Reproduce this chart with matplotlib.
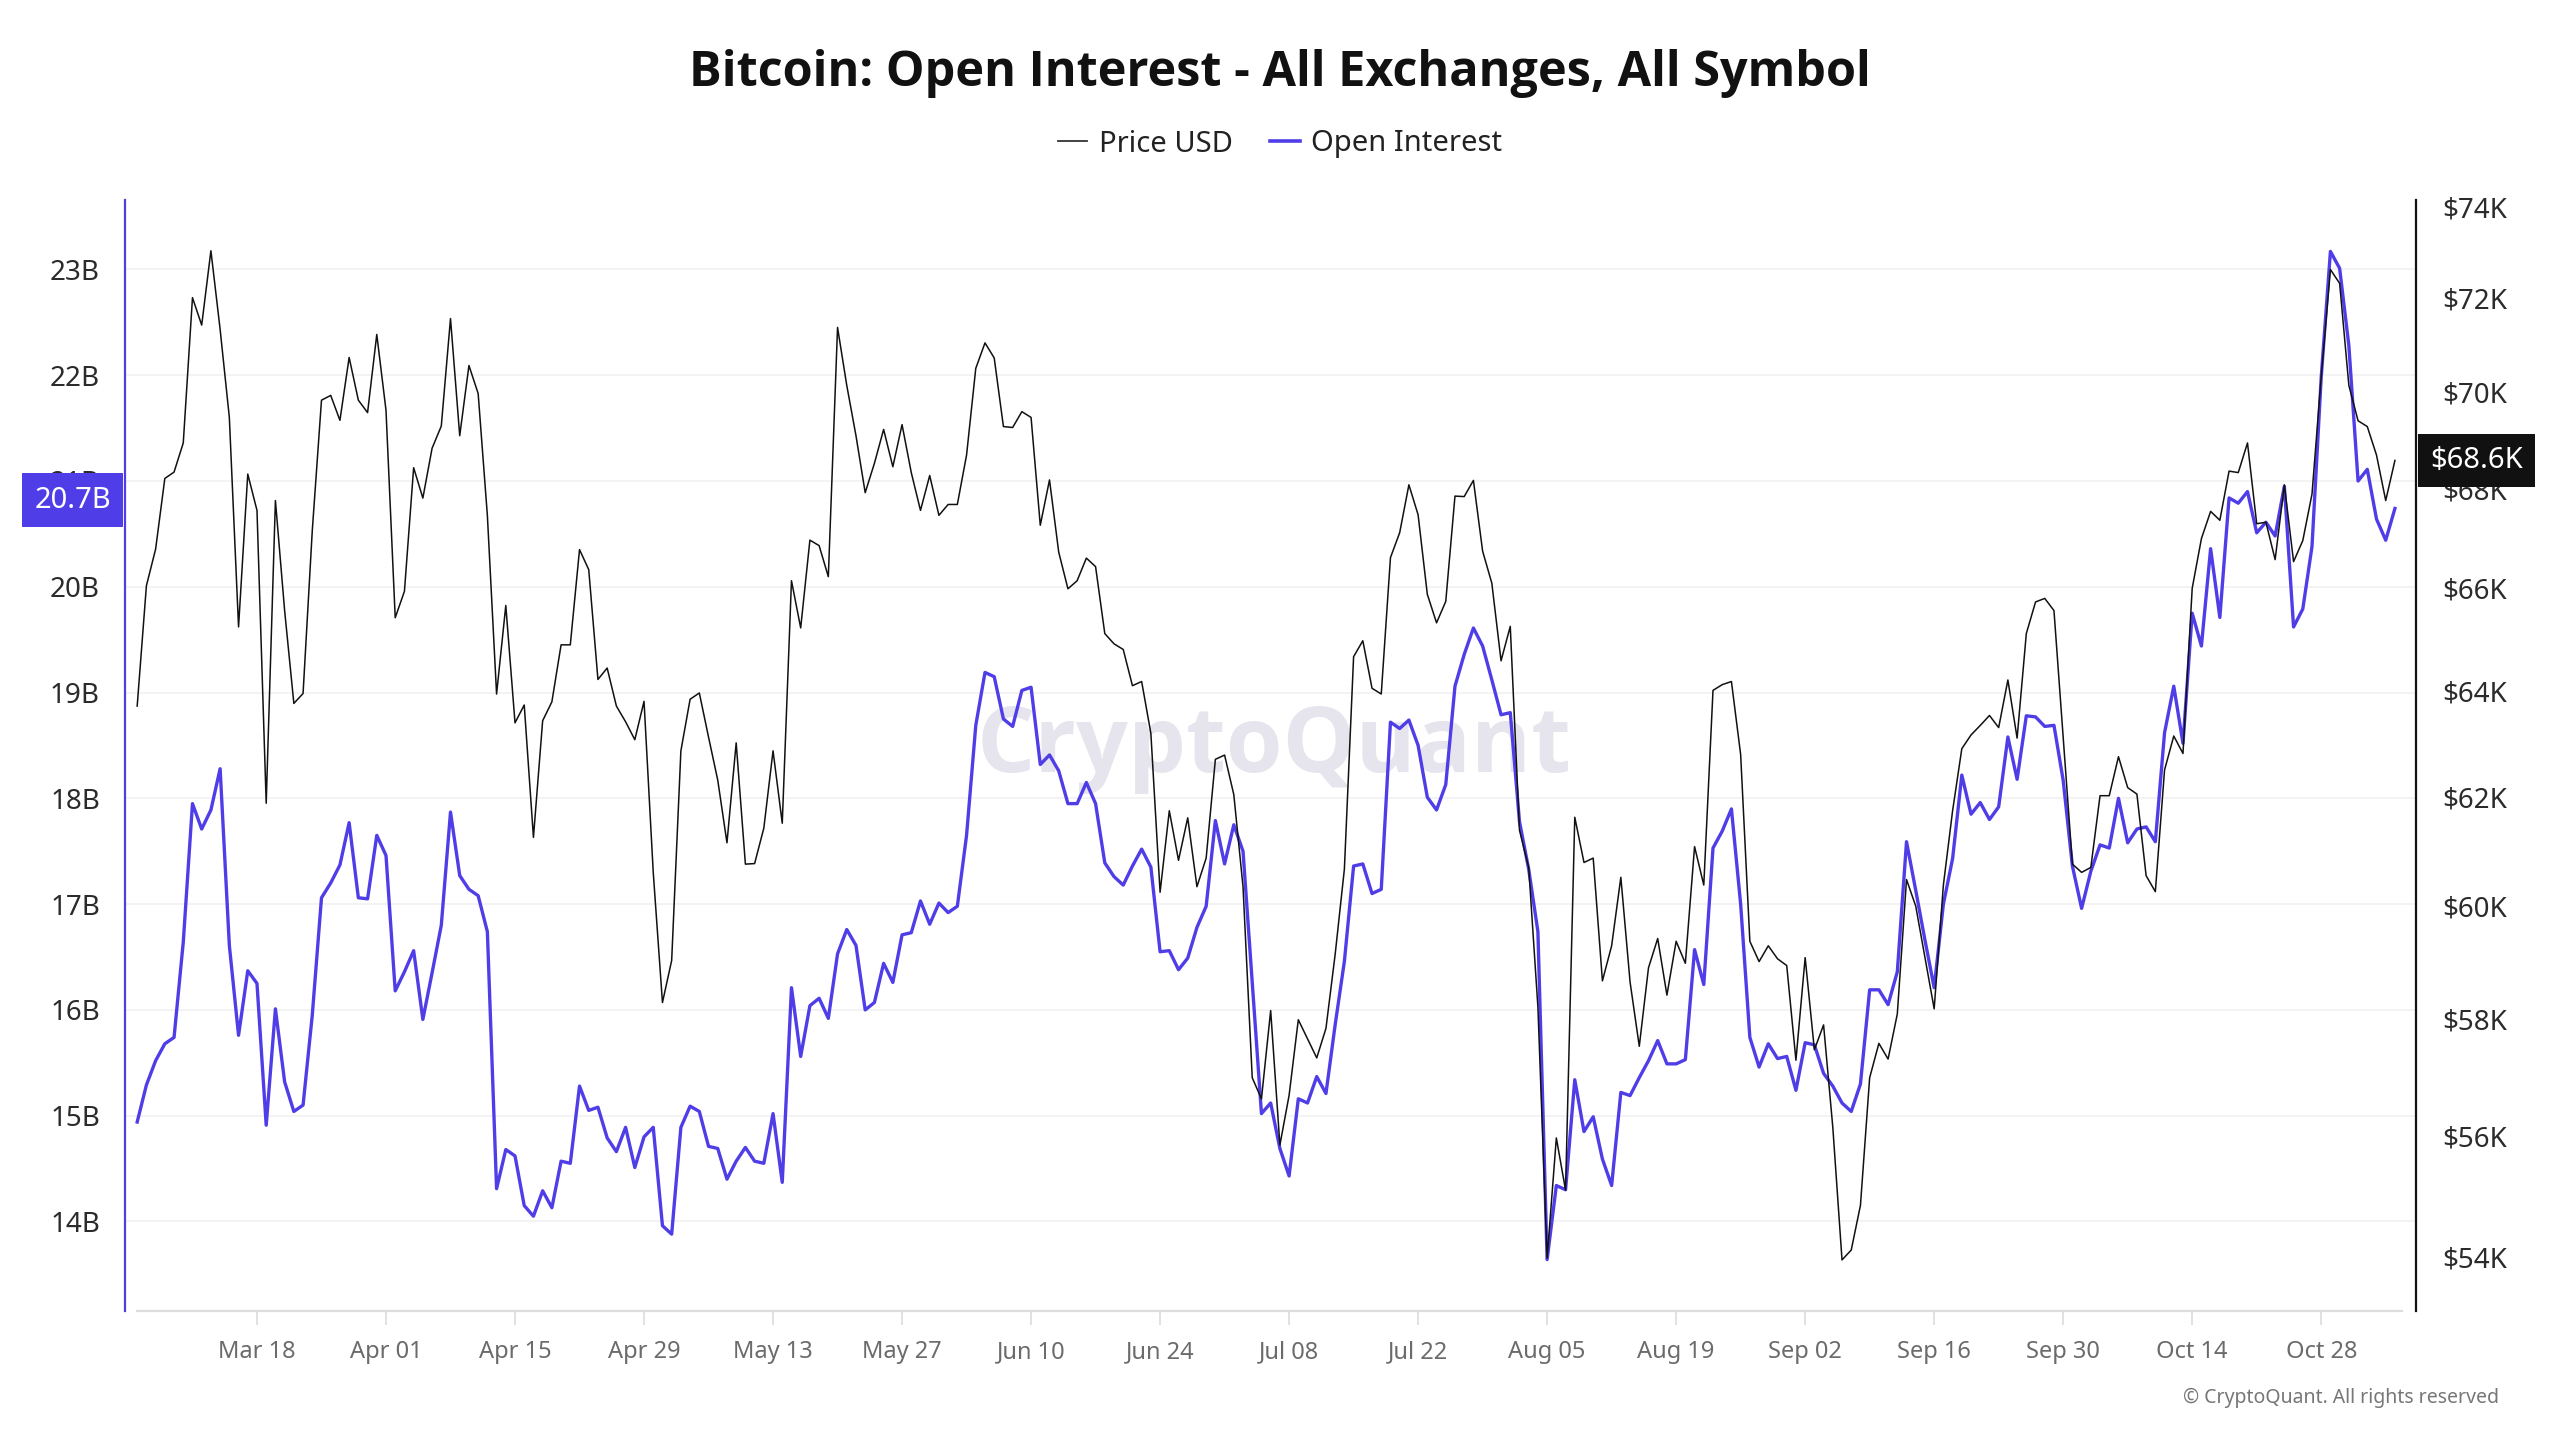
import matplotlib
matplotlib.use("Agg")
import matplotlib.pyplot as plt
import matplotlib.dates as mdates
from matplotlib.lines import Line2D
import pandas as pd

# daily series, one value per day starting at START_DATE
START_DATE = "2024-03-05"

PRICE_K = [
    63.71, 66.05, 66.78, 68.21, 68.34, 68.94, 72.01, 71.42, 73.03, 71.33,
    69.47, 65.24, 68.30, 67.56, 61.88, 67.76, 65.56, 63.76, 63.95, 67.15,
    69.83, 69.93, 69.41, 70.73, 69.83, 69.57, 71.22, 69.62, 65.42, 65.94,
    68.43, 67.81, 68.83, 69.29, 71.56, 69.09, 70.56, 69.97, 67.46, 63.94,
    65.66, 63.39, 63.73, 61.25, 63.43, 63.79, 64.89, 64.89, 66.77, 66.37,
    64.22, 64.44, 63.71, 63.41, 63.07, 63.80, 60.61, 58.29, 59.03, 62.86,
    63.84, 63.96, 63.12, 62.31, 61.15, 63.01, 60.76, 60.77, 61.42, 62.86,
    61.51, 66.15, 65.22, 66.96, 66.85, 66.23, 71.37, 70.14, 69.09, 67.92,
    68.52, 69.22, 68.45, 69.32, 68.33, 67.56, 68.27, 67.46, 67.68, 67.68,
    68.69, 70.50, 71.04, 70.72, 69.28, 69.26, 69.59, 69.47, 67.26, 68.18,
    66.72, 65.99, 66.15, 66.60, 66.43, 65.11, 64.91, 64.80, 64.10, 64.18,
    63.19, 60.25, 61.74, 60.83, 61.61, 60.35, 60.87, 62.70, 62.78, 62.04,
    60.35, 56.99, 56.63, 58.15, 55.85, 56.69, 57.99, 57.66, 57.33, 57.84,
    59.14, 60.67, 64.66, 64.97, 64.05, 63.94, 66.61, 67.11, 68.08, 67.47,
    65.88, 65.32, 65.74, 67.85, 67.84, 68.17, 66.74, 66.10, 64.58, 65.25,
    61.38, 60.70, 58.21, 53.99, 55.97, 55.10, 61.62, 60.79, 60.87, 58.67,
    59.29, 60.52, 58.65, 57.53, 58.90, 59.42, 58.42, 59.37, 58.98, 61.08,
    60.38, 64.01, 64.12, 64.18, 62.79, 59.37, 59.01, 59.29, 59.06, 58.94,
    57.29, 59.08, 57.47, 57.90, 56.15, 53.96, 54.12, 54.85, 56.99, 57.58,
    57.31, 58.09, 60.48, 60.00, 59.08, 58.18, 60.38, 61.74, 62.90, 63.16,
    63.34, 63.53, 63.30, 64.21, 63.10, 65.11, 65.73, 65.80, 65.56, 63.10,
    60.76, 60.61, 60.70, 62.02, 62.02, 62.75, 62.17, 62.05, 60.55, 60.26,
    62.50, 63.14, 62.81, 66.00, 66.99, 67.54, 67.36, 68.36, 68.33, 68.94,
    67.29, 67.32, 66.57, 68.08, 66.53, 66.95, 67.89, 70.32, 72.62, 72.32,
    70.14, 69.40, 69.28, 68.69, 67.76, 68.58,
]

OPEN_INTEREST_B = [
    14.94, 15.29, 15.52, 15.68, 15.74, 16.64, 17.95, 17.71, 17.89, 18.28,
    16.61, 15.76, 16.37, 16.25, 14.91, 16.01, 15.32, 15.04, 15.10, 15.95,
    17.06, 17.20, 17.37, 17.77, 17.06, 17.05, 17.65, 17.46, 16.18, 16.36,
    16.56, 15.91, 16.35, 16.80, 17.87, 17.27, 17.14, 17.08, 16.74, 14.31,
    14.68, 14.62, 14.15, 14.05, 14.29, 14.13, 14.57, 14.55, 15.28, 15.05,
    15.08, 14.79, 14.66, 14.89, 14.51, 14.80, 14.89, 13.96, 13.88, 14.89,
    15.09, 15.04, 14.71, 14.69, 14.40, 14.57, 14.70, 14.57, 14.55, 15.02,
    14.37, 16.21, 15.56, 16.04, 16.11, 15.92, 16.53, 16.76, 16.61, 16.00,
    16.07, 16.44, 16.26, 16.71, 16.73, 17.03, 16.81, 17.01, 16.92, 16.98,
    17.65, 18.69, 19.19, 19.15, 18.75, 18.68, 19.02, 19.05, 18.32, 18.41,
    18.26, 17.95, 17.95, 18.15, 17.95, 17.39, 17.26, 17.18, 17.36, 17.52,
    17.35, 16.55, 16.56, 16.38, 16.49, 16.78, 16.98, 17.79, 17.38, 17.75,
    17.50, 16.26, 15.02, 15.12, 14.69, 14.43, 15.16, 15.12, 15.37, 15.21,
    15.86, 16.46, 17.36, 17.38, 17.10, 17.14, 18.72, 18.66, 18.74, 18.50,
    18.01, 17.89, 18.13, 19.06, 19.36, 19.61, 19.44, 19.12, 18.79, 18.81,
    17.78, 17.33, 16.74, 13.64, 14.34, 14.30, 15.34, 14.85, 14.99, 14.59,
    14.34, 15.22, 15.19, 15.36, 15.52, 15.71, 15.49, 15.49, 15.53, 16.57,
    16.24, 17.53, 17.69, 17.90, 17.00, 15.74, 15.46, 15.68, 15.54, 15.56,
    15.24, 15.69, 15.67, 15.40, 15.28, 15.12, 15.04, 15.30, 16.19, 16.19,
    16.05, 16.36, 17.59, 17.13, 16.66, 16.21, 17.00, 17.43, 18.22, 17.85,
    17.96, 17.80, 17.92, 18.58, 18.18, 18.78, 18.77, 18.68, 18.69, 18.17,
    17.36, 16.96, 17.31, 17.56, 17.53, 18.00, 17.58, 17.71, 17.73, 17.59,
    18.62, 19.06, 18.52, 19.75, 19.44, 20.36, 19.71, 20.84, 20.79, 20.90,
    20.51, 20.61, 20.48, 20.95, 19.62, 19.79, 20.38, 21.98, 23.17, 23.01,
    22.28, 21.00, 21.11, 20.64, 20.44, 20.74,
]

OI_TICKS = [14, 15, 16, 17, 18, 19, 20, 21, 22, 23]
PRICE_TICKS = [54, 56, 58, 60, 62, 64, 66, 68, 70, 72, 74]
FIRST_TICK = "2024-03-18"
LAST_TICK = "2024-10-28"

TITLE = "Bitcoin: Open Interest - All Exchanges, All Symbol"
BLUE = "#4f3ee8"
TEXT = "#2b2b2b"
BOLD_FONT = ["Open Sans", "Lato", "DejaVu Sans"]

plt.rcParams["font.family"] = ["Noto Sans", "DejaVu Sans"]

dates = pd.date_range(START_DATE, periods=len(PRICE_K), freq="D")

fig = plt.figure(figsize=(25.6, 14.4), dpi=100)
ax = fig.add_axes([0.0488, 0.0896, 0.895, 0.7715])
ax2 = ax.twinx()

# open interest on the left axis
ax.plot(dates, OPEN_INTEREST_B, color=BLUE, lw=2.4, zorder=3)
ax.set_ylim(13.154, 23.656)
ax.set_yticks(OI_TICKS)
ax.set_yticklabels([f"{t}B" for t in OI_TICKS])
ax.grid(axis="y", color="#f1f1f1", lw=1.2)
ax.set_axisbelow(True)

# price on the right axis (log)
ax2.plot(dates, PRICE_K, color="#111111", lw=1.1, zorder=4)
ax2.set_yscale("log")
ax2.set_ylim(53.14, 74.15)
ax2.set_yticks(PRICE_TICKS)
ax2.set_yticklabels([f"${t}K" for t in PRICE_TICKS])
ax2.yaxis.set_minor_locator(matplotlib.ticker.NullLocator())

x0 = dates[0] - pd.Timedelta(days=1.33)
x1 = dates[0] + pd.Timedelta(days=247.3)
ax.set_xlim(x0, x1)

ticks = pd.date_range(FIRST_TICK, LAST_TICK, freq="14D")
ax.set_xticks(ticks)
ax.xaxis.set_major_formatter(mdates.DateFormatter("%b %d"))
ax.tick_params(axis="x", colors="#dcdcdc", length=10, width=1.2, pad=11,
               labelsize=17, labelcolor="#6b6b6b")
ax.tick_params(axis="y", length=0, pad=18, labelsize=20, labelcolor=TEXT)
ax2.tick_params(axis="y", length=0, pad=19, labelsize=20, labelcolor=TEXT)

for a in (ax, ax2):
    for side in ("top", "bottom", "left", "right"):
        a.spines[side].set_visible(False)
ax.spines["bottom"].set_visible(True)
ax.spines["bottom"].set_color("#dcdcdc")
ax.spines["bottom"].set_linewidth(1.6)
ax.spines["bottom"].set_bounds(mdates.date2num(dates[0]),
                               mdates.date2num(dates[-1]) + 0.8)
ax.spines["left"].set_visible(True)
ax.spines["left"].set_color(BLUE)
ax.spines["left"].set_linewidth(1.6)
ax2.spines["right"].set_visible(True)
ax2.spines["right"].set_color("#111111")
ax2.spines["right"].set_linewidth(1.6)

# watermark
ax.text(0.5015, 0.507, "CryptoQuant", transform=ax.transAxes, ha="center",
        va="center", fontsize=66, fontweight="bold", family=BOLD_FONT,
        color="#e6e5ee", zorder=1)

# last value badges, sitting against each axis line
last_oi = OPEN_INTEREST_B[-1]
last_px = PRICE_K[-1]
ax.annotate(f"{last_oi:.1f}B", xy=(0, last_oi + 0.08),
            xycoords=ax.get_yaxis_transform(), xytext=(-10, 0),
            textcoords="offset points", ha="right", va="center",
            fontsize=21, color="white", zorder=10, annotation_clip=False,
            bbox=dict(boxstyle="square,pad=0.42", fc=BLUE, ec="none"))
ax2.annotate(f"${last_px:.1f}K", xy=(1, last_px),
             xycoords=ax2.get_yaxis_transform(), xytext=(10, 0),
             textcoords="offset points", ha="left", va="center",
             fontsize=21, color="white", zorder=10, annotation_clip=False,
             bbox=dict(boxstyle="square,pad=0.42", fc="#111111", ec="none"))

fig.text(0.5, 0.949, TITLE, ha="center", va="center", fontsize=35,
         fontweight="bold", family=BOLD_FONT, color="#111111")

handles = [Line2D([], [], color="#333333", lw=1.3),
           Line2D([], [], color=BLUE, lw=2.6)]
fig.legend(handles, ["Price USD", "Open Interest"], loc="center",
           bbox_to_anchor=(0.5, 0.9), ncol=2, frameon=False, fontsize=21,
           handlelength=1.0, handletextpad=0.4, columnspacing=1.3,
           labelcolor="#222222")

fig.text(0.976, 0.029, "\u00a9 CryptoQuant. All rights reserved", ha="right",
         va="center", fontsize=14, color="#777777")

fig.savefig("out.png", dpi=100)
